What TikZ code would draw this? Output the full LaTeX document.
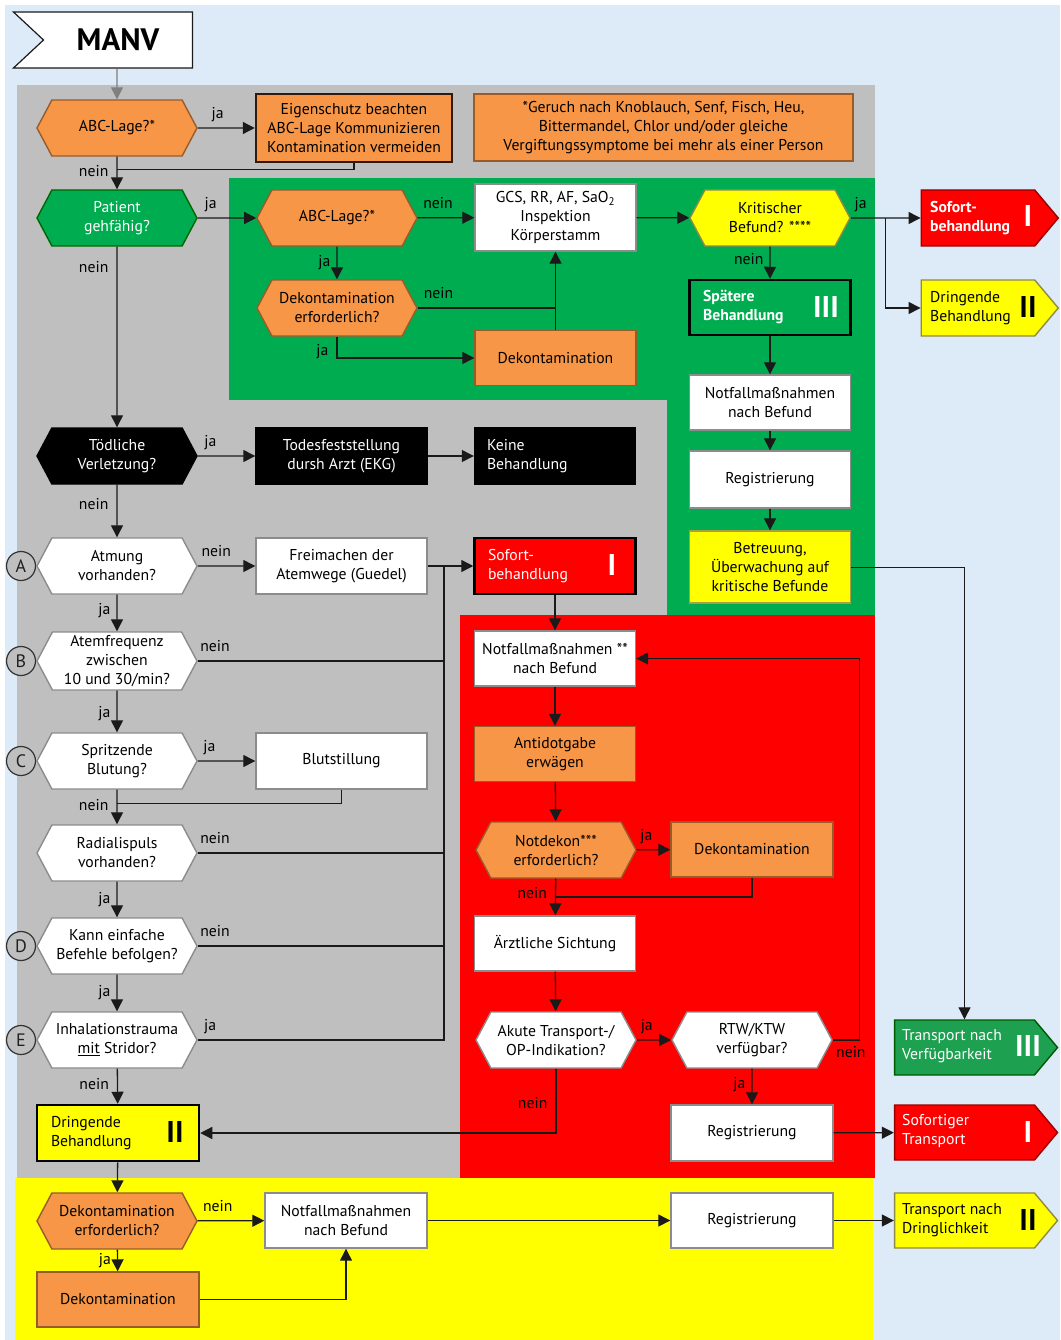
\documentclass[tikz,border=0pt]{standalone}
\usepackage{fontspec}
\setmainfont{PT Sans}
\usetikzlibrary{shapes.symbols, arrows.meta, calc}

\definecolor{bgblue}{HTML}{DDEAF7}
\definecolor{zgray}{HTML}{BFBFBF}
\definecolor{zgreen}{HTML}{00AC50}
\definecolor{zred}{HTML}{FF0000}
\definecolor{zyellow}{HTML}{FFFF00}
\definecolor{orng}{HTML}{F79646}
\definecolor{orngline}{HTML}{9A5B2A}
\definecolor{boxline}{HTML}{8C8C8C}
\definecolor{tgreen}{HTML}{1DA050}
\definecolor{ink}{HTML}{1A1A1A}

\tikzset{
  base/.style={font=\fontsize{15.7}{19}\selectfont, align=center, inner sep=2pt},
  rbox/.style={base, rectangle, minimum width=161pt, minimum height=55pt, line width=1.4pt},
  wbox/.style={rbox, fill=white, draw=boxline},
  obox/.style={rbox, fill=orng, draw=orngline},
  kbox/.style={rbox, fill=black, draw=black, text=white},
  hexa/.style={base, signal, signal to=west and east, signal pointer angle=124,
    minimum width=160pt, minimum height=56pt, line width=1.4pt},
  whex/.style={hexa, fill=white, draw=boxline},
  ohex/.style={hexa, fill=orng, draw=orngline},
  tagbox/.style={base, signal, signal to=east, signal pointer angle=100,
    minimum width=137pt, minimum height=56pt, line width=1.4pt},
  tagtext/.style={base, anchor=west, align=left},
  arr/.style={draw=ink, line width=1.3pt, -{Triangle[length=12pt,width=12pt]}},
  ln/.style={draw=ink, line width=1.3pt},
  lab/.style={font=\fontsize{15.7}{19}\selectfont, inner sep=2pt, text height=10.5pt, text depth=3pt},
  roman/.style={font=\fontsize{30}{30}\selectfont\bfseries, inner sep=0pt},
  letter/.style={circle, draw=gray!40!black, fill=zgray, line width=1.2pt,
    minimum size=29pt, inner sep=0pt, font=\fontsize{18}{18}\selectfont, text=gray!25!black},
}

\begin{document}
\begin{tikzpicture}[x=1pt,y=-1pt]
\useasboundingbox (0,0) rectangle (1060,1340);
\fill[white] (0,0) rectangle (1060,1340);
% coloured zones
\fill[bgblue] (5,5) rectangle (1060,1340);
\fill[zgray] (17,85) rectangle (875,1178);
\fill[zgreen] (229,178) rectangle (875,400);
\fill[zgreen] (667,400) rectangle (875,615);
\fill[zred] (460,615) rectangle (875,1178);
\fill[zyellow] (15,1178) rectangle (873,1340);

% start flag
\node[base, signal, signal from=west, signal to=nowhere, signal pointer angle=86,
  minimum width=179pt, minimum height=56pt, fill=white, draw=ink, line width=1.2pt,
  font=\fontsize{31}{31}\selectfont\bfseries] (manv) at (118,40) {MANV};

% gray zone, top
\node[ohex] (abc1) at (117,128) {ABC-Lage?*};
\node[obox, minimum width=196pt, minimum height=68pt, line width=2.5pt, draw=black!70!orngline]
  (eigen) at (354,128) {Eigenschutz beachten\\ABC-Lage Kommunizieren\\Kontamination vermeiden};
\node[obox, minimum width=379pt, minimum height=67pt] (foot) at (663.5,127.5)
  {*Geruch nach Knoblauch, Senf, Fisch, Heu,\\Bittermandel, Chlor und/oder gleiche\\Vergiftungssymptome bei mehr als einer Person};
\node[hexa, fill=zgreen, draw=green!40!black, text=white] (pat) at (117,218) {Patient\\gehfähig?};

% green zone
\node[ohex] (abc2) at (337,218) {ABC-Lage?*};
\node[wbox, minimum height=67pt] (gcs) at (555.5,217.5) {GCS, RR, AF, SaO\textsubscript{2}\\Inspektion\\Körperstamm};
\node[hexa, fill=zyellow, draw=yellow!50!black] (krit) at (770,218) {Kritischer\\Befund? ****};
\node[ohex] (dekerf) at (337,308) {Dekontamination\\erforderlich?};
\node[obox] (dek1) at (555.5,358) {Dekontamination};
\node[rbox, fill=zgreen, draw=black, line width=2.5pt, text=white, text width=134pt, align=left,
  font=\fontsize{15.7}{19}\selectfont\bfseries] (spaet) at (770,307.5) {Spätere\\Behandlung};
\node[roman, text=white] (spaetR) at (826,307) {III};
\node[wbox] (notf1) at (770,402.5) {Notfallmaßnahmen\\nach Befund};
\node[wbox, minimum height=57pt] (reg1) at (770,479.5) {Registrierung};
\node[rbox, fill=zyellow, draw=yellow!60!black, minimum height=72pt] (betr) at (770,567)
  {Betreuung,\\Überwachung auf\\kritische Befunde};

% right-hand outcome tags
\node[tagbox, fill=zred, draw=red!60!black] (sofP) at (978,218) {};
\node[tagtext, text=white, font=\fontsize{15.7}{19}\selectfont\bfseries] (sofPt) at (928,218) {Sofort-\\behandlung};
\node[roman, text=white] (sofPR) at (1028,216) {I};
\node[tagbox, fill=zyellow, draw=yellow!50!black] (dringP) at (978,308) {};
\node[tagtext] (dringPt) at (928,308) {Dringende\\Behandlung};
\node[roman] (dringPR) at (1028,307) {II};
\node[tagbox, fill=tgreen, draw=green!35!black, minimum width=163pt, minimum height=55pt] (tvP) at (964.5,1047.5) {};
\node[tagtext, text=white] (tvPt) at (900,1046) {Transport nach\\Verfügbarkeit};
\node[roman, text=white] (tvPR) at (1028,1046) {III};
\node[tagbox, fill=zred, draw=red!60!black, minimum width=163pt, minimum height=55pt] (stP) at (964.5,1132.5) {};
\node[tagtext, text=white] (stPt) at (900,1131) {Sofortiger\\Transport};
\node[roman, text=white] (stPR) at (1028,1132) {I};
\node[tagbox, fill=zyellow, draw=yellow!50!black, minimum width=163pt, minimum height=55pt] (tdP) at (964.5,1220.5) {};
\node[tagtext] (tdPt) at (900,1220) {Transport nach\\Dringlichkeit};
\node[roman] (tdPR) at (1028,1220) {II};

% gray zone, left column
\node[hexa, fill=black, draw=black, text=white] (toed) at (117,456) {Tödliche\\Verletzung?};
\node[kbox, minimum width=171pt, minimum height=56pt] (todes) at (341.5,456) {Todesfeststellung\\dursh Arzt (EKG)};
\node[kbox, minimum height=56pt, text width=136pt, align=left] (keine) at (555,456) {Keine\\Behandlung};
\node[whex] (atm) at (117,566) {Atmung\\vorhanden?};
\node[wbox, minimum width=171pt, minimum height=56pt] (frei) at (341.5,566) {Freimachen der\\Atemwege (Guedel)};
\node[rbox, fill=zred, draw=black, line width=2.5pt, text=white, text width=134pt, align=left,
  minimum height=56pt] (sofB) at (555,566) {Sofort-\\behandlung};
\node[roman, text=white] (sofBR) at (612,565) {I};
\node[whex, minimum height=58pt] (atf) at (117,661) {Atemfrequenz\\zwischen\\10 und 30/min?};
\node[whex] (spr) at (117,761) {Spritzende\\Blutung?};
\node[wbox, minimum width=171pt, minimum height=56pt] (blut) at (341.5,761) {Blutstillung};
\node[whex] (rad) at (117,853) {Radialispuls\\vorhanden?};
\node[whex] (kann) at (117,946) {Kann einfache\\Befehle befolgen?};
\node[whex] (inh) at (117,1040) {Inhalationstrauma\\\underline{mit} Stridor?};
\node[rbox, fill=zyellow, draw=black, line width=2.5pt, text width=134pt, align=left,
  minimum width=162pt, minimum height=56pt] (dringB) at (118,1133) {Dringende\\Behandlung};
\node[roman] (dringBR) at (175,1132) {II};

\node[letter] (cA) at (21,566) {A};
\node[letter] (cB) at (21,661) {B};
\node[letter] (cC) at (21,761) {C};
\node[letter] (cD) at (21,946) {D};
\node[letter] (cE) at (21,1040) {E};

% red zone
\node[wbox] (notf2) at (555,658.5) {Notfallmaßnahmen **\\nach Befund};
\node[obox] (anti) at (555,754) {Antidotgabe\\erwägen};
\node[ohex] (notdek) at (556,850) {Notdekon***\\erforderlich?};
\node[obox, minimum width=162pt] (dek2) at (752,849.5) {Dekontamination};
\node[wbox] (arzt) at (555,943.5) {Ärztliche Sichtung};
\node[whex] (akut) at (556,1040) {Akute Transport-/\\OP-Indikation?};
\node[whex] (rtw) at (752,1040) {RTW/KTW\\verfügbar?};
\node[wbox, minimum width=162pt, minimum height=56pt] (reg2) at (752,1133) {Registrierung};

% yellow zone
\node[ohex] (dekerf3) at (117,1221) {Dekontamination\\erforderlich?};
\node[wbox, minimum width=162pt] (notf3) at (346,1220.5) {Notfallmaßnahmen\\nach Befund};
\node[wbox, minimum width=162pt] (reg3) at (752,1220.5) {Registrierung};
\node[obox, minimum width=162pt] (dek3) at (118,1299.5) {Dekontamination};

% connectors: top
\draw[arr, draw=gray] (abc1.north |- manv.south) -- (abc1);
\draw[arr] (abc1) -- node[lab, above=4pt, pos=0.35] {ja} (eigen);
\draw[arr] (abc1) -- node[lab, left=6pt, pos=0.5] {nein} (pat);
\draw[ln] (eigen.south) |- ($(abc1.south)!0.4!(pat.north)$);
\draw[arr] (pat) -- node[lab, above=4pt, pos=0.22] {ja} (abc2);
\draw[arr] (pat) -- node[lab, left=6pt, pos=0.12] {nein} (toed);

% connectors: green zone
\draw[arr] (abc2) -- node[lab, above=4pt, pos=0.36] {nein} (gcs);
\draw[arr] (abc2) -- node[lab, left=4pt, pos=0.5] {ja} (dekerf);
\coordinate (dekjoin) at (dekerf.east -| dek1.north);
\draw[ln] (dekerf.east) -- node[lab, above=4pt, pos=0.15] {nein} (dekjoin);
\draw[arr] (dek1) -- (gcs);
\draw[arr] (dekerf.south) |- node[lab, left=6pt, pos=0.35] {ja} (dek1.west);
\draw[arr] (gcs) -- (krit);
\draw[arr] (krit) -- node[lab, above=4pt, pos=0.14] {ja} (sofP);
\coordinate (kritsplit) at ($(krit.east)!0.5!(sofP.west)$);
\draw[arr] (kritsplit) |- (dringP.west);
\draw[arr] (krit) -- node[lab, left=4pt, pos=0.45] {nein} (spaet);
\draw[arr] (spaet) -- (notf1);
\draw[arr] (notf1) -- (reg1);
\draw[arr] (reg1) -- (betr);
\draw[arr, line width=1pt] (betr.east) -| (tvP.north);

% connectors: left column
\draw[arr] (toed) -- node[lab, above=4pt, pos=0.22] {ja} (todes);
\draw[arr] (todes) -- (keine);
\draw[arr] (toed) -- node[lab, left=6pt, pos=0.4] {nein} (atm);
\draw[arr] (atm) -- node[lab, above=4pt, pos=0.32] {nein} (frei);
\draw[arr] (frei) -- (sofB);
\coordinate (bus) at ($(frei.east)!0.36!(sofB.west)$);
\draw[ln] (atf.east) -- node[lab, above=4pt, pos=0.07] {nein} (atf.east -| bus);
\draw[ln] (rad.east) -- node[lab, above=4pt, pos=0.07] {nein} (rad.east -| bus);
\draw[ln] (kann.east) -- node[lab, above=4pt, pos=0.07] {nein} (kann.east -| bus);
\draw[ln] (inh.east) -- node[lab, above=4pt, pos=0.05] {ja} (inh.east -| bus) -- (bus);
\draw[arr] (atm) -- node[lab, left=4pt, pos=0.45] {ja} (atf);
\draw[arr] (atf) -- node[lab, left=4pt, pos=0.55] {ja} (spr);
\draw[arr] (spr) -- node[lab, above=4pt, pos=0.2] {ja} (blut);
\draw[arr] (spr) -- node[lab, left=6pt, pos=0.5] {nein} (rad);
\draw[ln] (blut.south) |- ($(spr.south)!0.4!(rad.north)$);
\draw[arr] (rad) -- node[lab, left=4pt, pos=0.5] {ja} (kann);
\draw[arr] (kann) -- node[lab, left=4pt, pos=0.5] {ja} (inh);
\draw[arr] (inh) -- node[lab, left=6pt, pos=0.5] {nein} (dringB);

% connectors: red zone
\draw[arr] (sofB) -- (notf2);
\draw[arr] (notf2) -- (anti);
\draw[arr] (anti) -- (notdek);
\draw[arr] (notdek) -- node[lab, above=4pt, pos=0.29] {ja} (dek2);
\draw[arr] (notdek) -- node[lab, left=6pt, pos=0.45] {nein} (arzt);
\draw[ln] (dek2.south) |- ($(notdek.south)!0.5!(arzt.north)$);
\draw[arr] (arzt) -- (akut);
\draw[arr] (akut) -- node[lab, above=4pt, pos=0.29] {ja} (rtw);
\draw[arr] (rtw) -- node[lab, left=4pt, pos=0.45] {ja} (reg2);
\draw[arr] (rtw.east) -- node[lab, below=4pt, pos=0.67] {nein} ++(27,0) |- (notf2.east);
\draw[arr] (akut.south) |- node[lab, left=6pt, pos=0.28] {nein} (dringB.east);
\draw[arr] (reg2) -- (stP);

% connectors: yellow zone
\draw[arr] (dringB) -- (dekerf3);
\draw[arr] (dekerf3) -- node[lab, above=4pt, pos=0.3] {nein} (notf3);
\draw[arr] (dekerf3) -- node[lab, left=4pt, pos=0.5] {ja} (dek3);
\draw[arr] (dek3.east) -| (notf3.south);
\draw[arr] (notf3) -- (reg3);
\draw[arr] (reg3) -- (tdP);
\end{tikzpicture}
\end{document}
